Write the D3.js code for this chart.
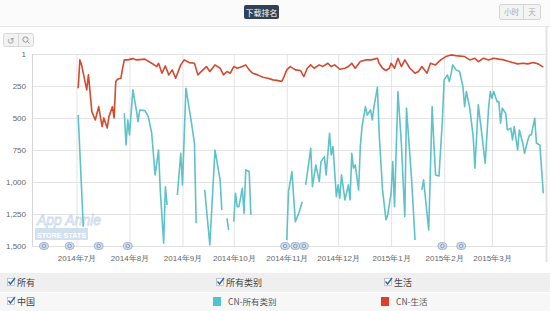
<!DOCTYPE html>
<html>
<head>
<meta charset="utf-8">
<script src="https://cdn.jsdelivr.net/npm/d3@7"></script>
<style>
body { margin: 0; background: #fff; font-family: "Noto Sans CJK SC", "Noto Sans", sans-serif; }
.axis text { fill: #666; font-size: 8px; }
.grid line { stroke: #e3e3e3; }
</style>
</head>
<body>
<div id="chart"></div>
<script>
// y ticks (rank), month ticks
const yTicks = [1, 250, 500, 750, 1000, 1250, 1500]
const monthTicks = ["2014-07-01", "2014-08-01", "2014-09-01", "2014-10-01", "2014-11-01",
    "2014-12-01", "2015-01-01", "2015-02-01", "2015-03-01"]
const monthLabels = ["2014年7月", "2014年8月", "2014年9月", "2014年10月", "2014年11月",
    "2014年12月", "2015年1月", "2015年2月", "2015年3月"]

// CN-生活 rank
const lifeDates = ["2014-07-02", "2014-07-03", "2014-07-04", "2014-07-07", "2014-07-08", "2014-07-09",
    "2014-07-10", "2014-07-12", "2014-07-14", "2014-07-16", "2014-07-17", "2014-07-19", "2014-07-20",
    "2014-07-22", "2014-07-23", "2014-07-24", "2014-07-25", "2014-07-27", "2014-07-28", "2014-07-29",
    "2014-07-31", "2014-08-03", "2014-08-05", "2014-08-10", "2014-08-14", "2014-08-17", "2014-08-18",
    "2014-08-20", "2014-08-22", "2014-08-24", "2014-08-26", "2014-08-28", "2014-08-31", "2014-09-02",
    "2014-09-05", "2014-09-08", "2014-09-10", "2014-09-13", "2014-09-15", "2014-09-17", "2014-09-20",
    "2014-09-23", "2014-09-25", "2014-09-27", "2014-09-29", "2014-10-01", "2014-10-03", "2014-10-06",
    "2014-10-08", "2014-10-10", "2014-10-12", "2014-10-15", "2014-10-18", "2014-10-21", "2014-10-24",
    "2014-10-27", "2014-10-29", "2014-10-30", "2014-11-01", "2014-11-03", "2014-11-06", "2014-11-09",
    "2014-11-11", "2014-11-13", "2014-11-15", "2014-11-17", "2014-11-20", "2014-11-22", "2014-11-25",
    "2014-11-27", "2014-11-29", "2014-12-02", "2014-12-05", "2014-12-07", "2014-12-09", "2014-12-11",
    "2014-12-14", "2014-12-17", "2014-12-20", "2014-12-22", "2014-12-24", "2014-12-25", "2014-12-27",
    "2014-12-29", "2014-12-31", "2015-01-01", "2015-01-03", "2015-01-05", "2015-01-07", "2015-01-09",
    "2015-01-12", "2015-01-15", "2015-01-17", "2015-01-19", "2015-01-22", "2015-01-24", "2015-01-27",
    "2015-01-30", "2015-02-02", "2015-02-05", "2015-02-09", "2015-02-13", "2015-02-16", "2015-02-19",
    "2015-02-21", "2015-02-24", "2015-02-27", "2015-03-02", "2015-03-05", "2015-03-08", "2015-03-11",
    "2015-03-13", "2015-03-16", "2015-03-19", "2015-03-22", "2015-03-25", "2015-03-28", "2015-03-31"]
const lifeRanks = [268, 47, 86, 281, 164, 305,
    451, 516, 412, 568, 500, 578, 490,
    412, 500, 216, 198, 190, 112, 47,
    47, 37, 47, 41, 73, 99, 73,
    151, 94, 164, 125, 190, 86, 47,
    68, 73, 164, 125, 99, 138, 86,
    112, 164, 138, 151, 99, 112, 99,
    86, 125, 151, 164, 182, 190, 203,
    209, 216, 190, 125, 99, 125, 130,
    177, 112, 86, 112, 86, 99, 73,
    99, 86, 120, 112, 99, 73, 112,
    60, 47, 47, 41, 34, 73, 112,
    130, 112, 73, 112, 34, 99, 47,
    112, 151, 138, 99, 151, 73, 86,
    47, 21, 8, 16, 21, 47, 34,
    60, 34, 47, 34, 41, 47, 60,
    68, 78, 73, 78, 68, 78, 104]

// CN-所有类别 rank (null = no data)
const allDates = ["2014-07-02", "2014-07-05", "2014-07-06",
    "2014-07-29", "2014-07-30", "2014-07-31", "2014-08-01", "2014-08-03", "2014-08-05", "2014-08-06",
    "2014-08-07", "2014-08-10", "2014-08-12", "2014-08-14", "2014-08-16", "2014-08-18", "2014-08-19",
    "2014-08-21", "2014-08-22", "2014-08-23", "2014-08-24",
    "2014-08-29", "2014-08-31", "2014-09-01", "2014-09-03", "2014-09-06", "2014-09-08", "2014-09-09", "2014-09-10",
    "2014-09-14", "2014-09-17", "2014-09-20", "2014-09-23", "2014-09-24", "2014-09-25",
    "2014-09-27", "2014-09-28", "2014-09-29",
    "2014-10-01", "2014-10-02", "2014-10-03", "2014-10-04", "2014-10-06", "2014-10-07", "2014-10-08",
    "2014-10-10", "2014-10-11", "2014-10-12",
    "2014-11-01", "2014-11-02", "2014-11-04", "2014-11-06", "2014-11-08", "2014-11-10", "2014-11-11",
    "2014-11-12", "2014-11-13", "2014-11-15", "2014-11-16", "2014-11-18", "2014-11-20", "2014-11-21",
    "2014-11-23", "2014-11-24", "2014-11-26", "2014-11-27", "2014-11-28", "2014-11-30", "2014-12-01",
    "2014-12-02", "2014-12-03", "2014-12-05", "2014-12-07", "2014-12-08", "2014-12-09", "2014-12-10",
    "2014-12-11", "2014-12-13", "2014-12-14", "2014-12-15", "2014-12-17", "2014-12-18", "2014-12-20",
    "2014-12-21", "2014-12-22", "2014-12-24", "2014-12-25", "2014-12-27", "2014-12-29", "2014-12-30",
    "2015-01-01", "2015-01-02", "2015-01-03", "2015-01-05", "2015-01-07", "2015-01-09", "2015-01-10",
    "2015-01-13", "2015-01-15", "2015-01-16",
    "2015-01-19", "2015-01-20", "2015-01-23", "2015-01-25", "2015-01-26", "2015-01-27", "2015-01-29",
    "2015-01-31", "2015-02-01", "2015-02-03", "2015-02-04", "2015-02-05", "2015-02-06", "2015-02-08",
    "2015-02-10", "2015-02-12", "2015-02-13", "2015-02-14", "2015-02-16", "2015-02-18", "2015-02-19",
    "2015-02-21", "2015-02-23", "2015-02-25", "2015-02-27", "2015-02-28", "2015-03-01", "2015-03-02",
    "2015-03-04", "2015-03-05", "2015-03-06", "2015-03-07", "2015-03-09", "2015-03-10", "2015-03-12",
    "2015-03-13", "2015-03-14", "2015-03-16", "2015-03-17", "2015-03-19", "2015-03-20", "2015-03-22",
    "2015-03-23", "2015-03-24", "2015-03-26", "2015-03-27", "2015-03-29", "2015-03-31"]
const allRanks = [477, 1350, null,
    463, 711, 516, 633, 281, 438, 529,
    438, 443, 490, 620, 945, 750, 1062,
    1479, 1037, 1180, null,
    1102, 776, 1023, 268, 516, 698, 1323, null,
    1062, 1492, 750, 984, 1219, null,
    1284, 1375, null,
    1310, 1088, 1193, 1193, 1049, 1245, 906,
    919, 1258, null,
    1453, 1076, 919, 1310, 1245, 1154, null,
    1023, 932, 737, 1037, 867, 998, 841,
    802, 945, 620, 789, 724, 1115, 1023,
    1127, 945, 1141, 1023, 1141, 776, 893,
    867, 1062, 724, 568, 412, 477, 438,
    516, 412, 260, 620, 1062, 1297, 1258,
    1088, 841, 1193, 294, 698, 1271, 424,
    984, 1453, null,
    1062, 984, 1375, 412, 698, 945, 953,
    516, 203, 164, 216, 164, 86, 125,
    138, 255, 412, 294, 424, 646, 893,
    398, 620, 854, 424, 294, 346, 294,
    373, 373, 541, 424, 463, 594, 580,
    672, 568, 750, 594, 698, 776, 672,
    633, 633, 502, 698, 711, 1088]

// event flags under the plot
const flagDates = ["2014-06-12", "2014-06-27", "2014-07-14", "2014-07-31", "2014-10-31",
    "2014-11-06", "2014-11-11", "2015-01-31", "2015-02-11"]

const colors = { all: "#5ec2c8", life: "#d34a30", grid: "#e3e3e3" }

const W = 550, H = 311
const plot = { left: 32, right: 545, top: 54, bottom: 246 }
const parse = d3.utcParse("%Y-%m-%d")

const svg = d3.select("#chart").append("svg")
    .attr("width", W).attr("height", H)
    .style("font-family", '"Noto Sans CJK SC", "Noto Sans", sans-serif')

// header
svg.append("rect").attr("x", 0).attr("y", 0).attr("width", W).attr("height", 26).attr("fill", "#fbfbfb")
svg.append("line").attr("x1", 0).attr("x2", W).attr("y1", 26.5).attr("y2", 26.5).attr("stroke", "#e6e6e6")
svg.append("rect").attr("x", 244).attr("y", 5).attr("width", 35).attr("height", 14).attr("rx", 2)
    .attr("fill", "#2f4256")
svg.append("text").attr("x", 261.5).attr("y", 15.5).attr("text-anchor", "middle")
    .attr("font-size", 8).attr("fill", "#fff").text("下载排名")

const btn = svg.append("g")
btn.append("rect").attr("x", 499.5).attr("y", 4.5).attr("width", 41).attr("height", 15).attr("rx", 2)
    .attr("fill", "#f4f4f4").attr("stroke", "#d4d4d4")
btn.append("line").attr("x1", 523.5).attr("x2", 523.5).attr("y1", 5).attr("y2", 19).attr("stroke", "#d4d4d4")
btn.append("text").attr("x", 511.5).attr("y", 15).attr("text-anchor", "middle").attr("font-size", 7.5)
    .attr("fill", "#aaa").text("小时")
btn.append("text").attr("x", 532).attr("y", 15).attr("text-anchor", "middle").attr("font-size", 7.5)
    .attr("fill", "#aaa").text("天")

// zoom buttons
const tools = svg.append("g")
tools.append("rect").attr("x", 3.5).attr("y", 33.5).attr("width", 30).attr("height", 13).attr("rx", 2)
    .attr("fill", "#f2f2f2").attr("stroke", "#d8d8d8")
tools.append("line").attr("x1", 18.5).attr("x2", 18.5).attr("y1", 34).attr("y2", 46).attr("stroke", "#d8d8d8")
tools.append("text").attr("x", 11).attr("y", 44).attr("text-anchor", "middle").attr("font-size", 9)
    .attr("fill", "#999").text("↺")
tools.append("circle").attr("cx", 25.5).attr("cy", 39.5).attr("r", 2.6).attr("fill", "none").attr("stroke", "#999")
tools.append("line").attr("x1", 27.4).attr("y1", 41.4).attr("x2", 29.5).attr("y2", 43.5).attr("stroke", "#999")

// scales
const x = d3.scaleUtc()
    .domain([parse("2014-06-05"), parse("2015-04-01")])
    .range([plot.left, plot.right])

const y = d3.scaleLinear()
    .domain([1, 1500])
    .range([plot.top, plot.bottom])

// grid + axes
const yAxis = d3.axisLeft(y)
    .tickValues(yTicks)
    .tickFormat(d3.format(","))
    .tickSize(-(plot.right - plot.left))
    .tickPadding(6)

const yAxisDraw = svg.append("g")
    .attr("class", "axis grid")
    .attr("transform", `translate(${plot.left},0)`)
    .call(yAxis)
yAxisDraw.select(".domain").remove()

const xAxis = d3.axisBottom(x)
    .tickValues(monthTicks.map(parse))
    .tickFormat((d, i) => monthLabels[i])
    .tickSize(-(plot.bottom - plot.top))
    .tickPadding(9)

const xAxisDraw = svg.append("g")
    .attr("class", "axis grid")
    .attr("transform", `translate(0,${plot.bottom})`)
    .call(xAxis)
xAxisDraw.select(".domain").remove()

// plot borders
svg.append("line").attr("x1", plot.left + 0.5).attr("x2", plot.left + 0.5)
    .attr("y1", plot.top).attr("y2", plot.bottom).attr("stroke", "#d6d6d6")
svg.append("line").attr("x1", plot.right + 1.5).attr("x2", plot.right + 1.5)
    .attr("y1", 27).attr("y2", 262).attr("stroke", "#e2e2e2").attr("stroke-width", 2)

// watermark
const wm = svg.append("g").attr("opacity", 0.75)
wm.append("text").attr("x", 37).attr("y", 225).attr("font-size", 14).attr("font-style", "italic")
    .attr("font-family", "Liberation Sans, sans-serif")
    .attr("fill", "none").attr("stroke", "#b9cfe2").attr("stroke-width", 0.8).text("App Annie")
wm.append("rect").attr("x", 35).attr("y", 228).attr("width", 53).attr("height", 12).attr("fill", "#c3d7ea")
wm.append("text").attr("x", 37).attr("y", 237.5).attr("font-size", 8)
    .attr("textLength", 49).attr("lengthAdjust", "spacingAndGlyphs")
    .attr("font-weight", "bold").attr("font-family", "Liberation Sans, sans-serif")
    .attr("fill", "#fff").text("STORE STATS")

// lines
const lineGen = d3.line()
    .defined(d => d.rank !== null)
    .x(d => x(d.date))
    .y(d => y(d.rank))

const allData = allDates.map((d, i) => ({ date: parse(d), rank: allRanks[i] }))
const lifeData = lifeDates.map((d, i) => ({ date: parse(d), rank: lifeRanks[i] }))

svg.append("path").datum(allData)
    .attr("d", lineGen)
    .attr("fill", "none").attr("stroke", colors.all).attr("stroke-width", 1.6)
    .attr("stroke-linejoin", "round")

svg.append("path").datum(lifeData)
    .attr("d", lineGen)
    .attr("fill", "none").attr("stroke", colors.life).attr("stroke-width", 1.6)
    .attr("stroke-linejoin", "round")

// flags
const flags = svg.append("g").selectAll("g")
    .data(flagDates.map(parse))
    .join("g")
    .attr("transform", d => `translate(${x(d)},${plot.bottom})`)
flags.append("rect").attr("x", -4.5).attr("y", -3.5).attr("width", 9).attr("height", 7).attr("rx", 3.5)
    .attr("fill", "#d3deec").attr("stroke", "#93a8c6").attr("stroke-width", 0.8)
flags.append("circle").attr("r", 1.8).attr("fill", "none").attr("stroke", "#7890b4").attr("stroke-width", 0.8)

// legend
const legend = svg.append("g")
legend.append("rect").attr("x", 0).attr("y", 273).attr("width", W).attr("height", 19).attr("fill", "#efefef")
legend.append("rect").attr("x", 0).attr("y", 292).attr("width", W).attr("height", 19).attr("fill", "#f7f7f7")
legend.append("line").attr("x1", 0).attr("x2", W).attr("y1", 292.5).attr("y2", 292.5).attr("stroke", "#fff")

const checks = [
    { x: 7, y: 278, label: "所有" },
    { x: 216, y: 278, label: "所有类别" },
    { x: 384, y: 278, label: "生活" },
    { x: 7, y: 297, label: "中国" }
]
checks.forEach(c => {
    legend.append("rect").attr("x", c.x + 0.5).attr("y", c.y + 0.5).attr("width", 7).attr("height", 7)
        .attr("fill", "#fff").attr("stroke", "#9aa9b8").attr("stroke-width", 0.6)
    legend.append("path").attr("d", `M${c.x + 1.5},${c.y + 3.5} L${c.x + 3.5},${c.y + 6} L${c.x + 8},${c.y}`)
        .attr("fill", "none").attr("stroke", "#2f66b3").attr("stroke-width", 1.4)
    legend.append("text").attr("x", c.x + 10).attr("y", c.y + 7.5).attr("font-size", 9)
        .attr("fill", "#444").text(c.label)
})

const series = [
    { x: 213, label: "CN-所有类别", color: "#4ec6cd" },
    { x: 381, label: "CN-生活", color: "#de3f28" }
]
series.forEach(s => {
    legend.append("rect").attr("x", s.x).attr("y", 297).attr("width", 8).attr("height", 9).attr("fill", s.color)
    legend.append("text").attr("x", s.x + 15).attr("y", 305).attr("font-size", 8.5)
        .attr("fill", "#555").text(s.label)
})
</script>
</body>
</html>
